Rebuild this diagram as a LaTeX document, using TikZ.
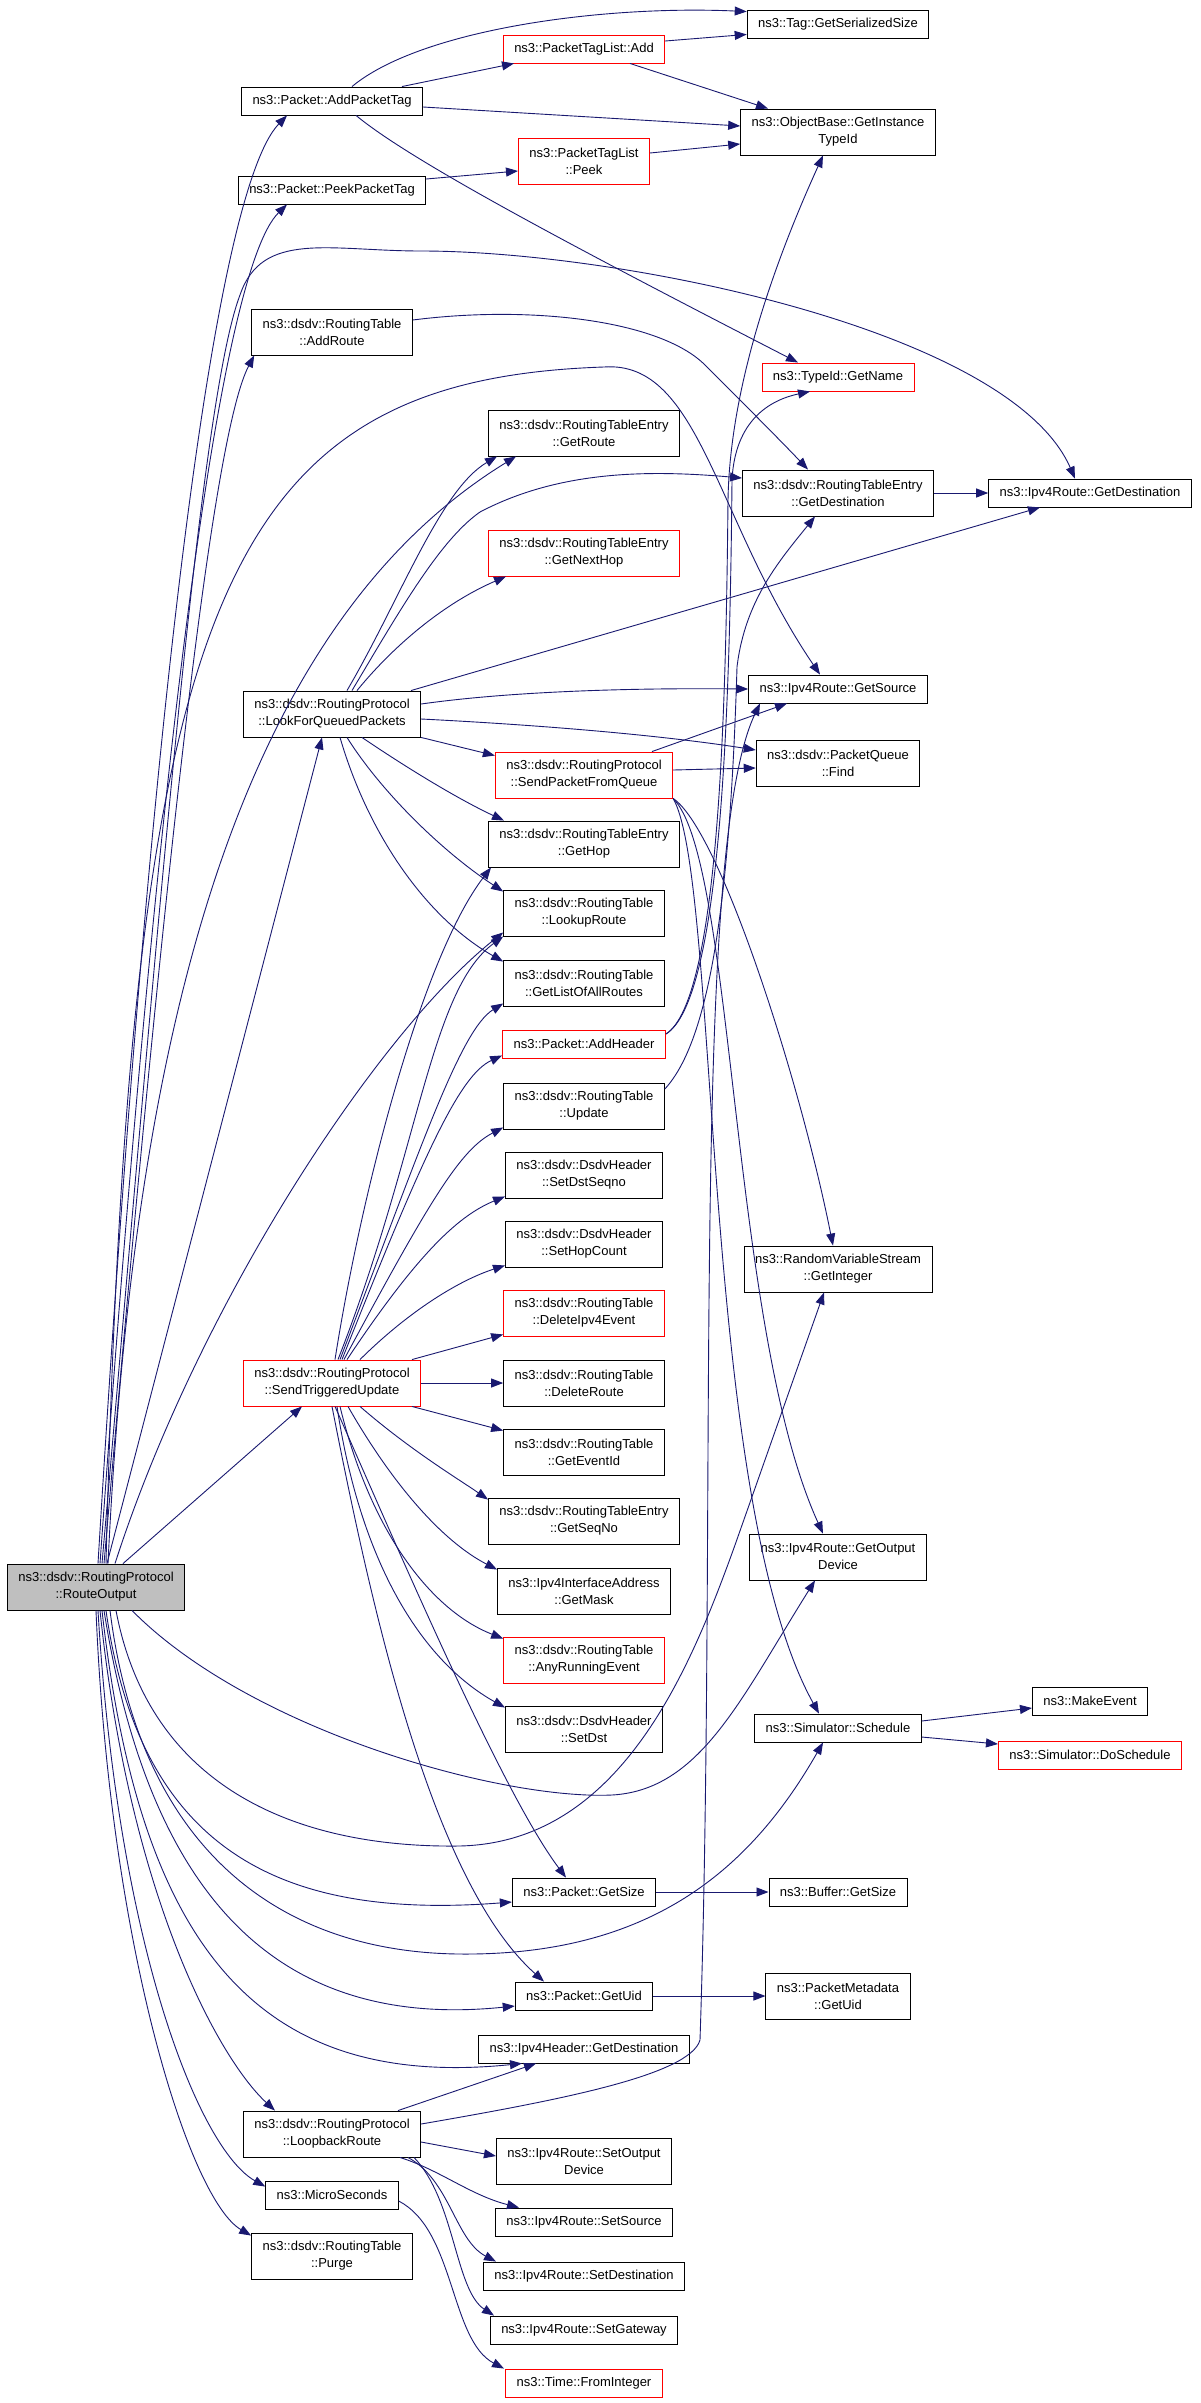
\documentclass[tikz,border=0pt]{standalone}
\usepackage{fontspec}
\setmainfont{Liberation Sans}
\usetikzlibrary{arrows.meta}
\definecolor{edgeblue}{HTML}{191970}
\definecolor{nodegray}{HTML}{BFBFBF}

\begin{document}
\begin{tikzpicture}[x=1pt, y=-1pt,
    fn/.style={draw=black, line width=0.9pt, fill=white, align=center, inner xsep=11pt, inner ysep=0pt,
      minimum height=28pt, font=\fontsize{13pt}{17pt}\selectfont},
    tall/.style={minimum height=46pt},
    hot/.style={draw=red},
    call/.style={draw=edgeblue, line width=0.9pt, -{Triangle[length=12pt,width=9pt]}}]
    \path[use as bounding box, fill=white] (0,0) rectangle (1200,2403);

    % caller
    \node[fn, tall, fill=nodegray] (ro) at (96,1587) {ns3::dsdv::RoutingProtocol\\::RouteOutput};

    % second column
    \node[fn] (apt) at (332,101) {ns3::Packet::AddPacketTag};
    \node[fn] (ppt) at (332,190) {ns3::Packet::PeekPacketTag};
    \node[fn, tall] (rtAdd) at (332,332) {ns3::dsdv::RoutingTable\\::AddRoute};
    \node[fn, tall] (lfqp) at (332,714) {ns3::dsdv::RoutingProtocol\\::LookForQueuedPackets};
    \node[fn, tall, hot] (stu) at (332,1383) {ns3::dsdv::RoutingProtocol\\::SendTriggeredUpdate};
    \node[fn, tall] (lbr) at (332,2134) {ns3::dsdv::RoutingProtocol\\::LoopbackRoute};
    \node[fn] (micro) at (332,2195) {ns3::MicroSeconds};
    \node[fn, tall] (purge) at (332,2256) {ns3::dsdv::RoutingTable\\::Purge};

    % third column
    \node[fn, hot] (ptlAdd) at (584,49) {ns3::PacketTagList::Add};
    \node[fn, tall, hot] (ptlPeek) at (584,161) {ns3::PacketTagList\\::Peek};
    \node[fn, tall] (getRoute) at (584,433) {ns3::dsdv::RoutingTableEntry\\::GetRoute};
    \node[fn, tall, hot] (nextHop) at (584,553) {ns3::dsdv::RoutingTableEntry\\::GetNextHop};
    \node[fn, tall, hot] (spfq) at (584,775) {ns3::dsdv::RoutingProtocol\\::SendPacketFromQueue};
    \node[fn, tall] (getHop) at (584,844) {ns3::dsdv::RoutingTableEntry\\::GetHop};
    \node[fn, tall] (lookup) at (584,913) {ns3::dsdv::RoutingTable\\::LookupRoute};
    \node[fn, tall] (allRoutes) at (584,983) {ns3::dsdv::RoutingTable\\::GetListOfAllRoutes};
    \node[fn, hot] (addHdr) at (584,1044) {ns3::Packet::AddHeader};
    \node[fn, tall] (update) at (584,1106) {ns3::dsdv::RoutingTable\\::Update};
    \node[fn, tall] (setDstSeqno) at (584,1175) {ns3::dsdv::DsdvHeader\\::SetDstSeqno};
    \node[fn, tall] (setHopCount) at (584,1244) {ns3::dsdv::DsdvHeader\\::SetHopCount};
    \node[fn, tall, hot] (delEvent) at (584,1313) {ns3::dsdv::RoutingTable\\::DeleteIpv4Event};
    \node[fn, tall] (delRoute) at (584,1383) {ns3::dsdv::RoutingTable\\::DeleteRoute};
    \node[fn, tall] (eventId) at (584,1452) {ns3::dsdv::RoutingTable\\::GetEventId};
    \node[fn, tall] (seqNo) at (584,1521) {ns3::dsdv::RoutingTableEntry\\::GetSeqNo};
    \node[fn, tall] (mask) at (584,1591) {ns3::Ipv4InterfaceAddress\\::GetMask};
    \node[fn, tall, hot] (anyRun) at (584,1660) {ns3::dsdv::RoutingTable\\::AnyRunningEvent};
    \node[fn, tall] (setDst) at (584,1729) {ns3::dsdv::DsdvHeader\\::SetDst};
    \node[fn] (pktSize) at (584,1892) {ns3::Packet::GetSize};
    \node[fn] (pktUid) at (584,1996) {ns3::Packet::GetUid};
    \node[fn] (hdrDst) at (584,2049) {ns3::Ipv4Header::GetDestination};
    \node[fn, tall] (setOut) at (584,2161) {ns3::Ipv4Route::SetOutput\\Device};
    \node[fn] (setSrc) at (584,2222) {ns3::Ipv4Route::SetSource};
    \node[fn] (setDest) at (584,2276) {ns3::Ipv4Route::SetDestination};
    \node[fn] (setGw) at (584,2330) {ns3::Ipv4Route::SetGateway};
    \node[fn, hot] (fromInt) at (584,2383) {ns3::Time::FromInteger};

    % fourth column
    \node[fn] (tagSize) at (838,24) {ns3::Tag::GetSerializedSize};
    \node[fn, tall] (instId) at (838,132) {ns3::ObjectBase::GetInstance\\TypeId};
    \node[fn, hot] (getName) at (838,377) {ns3::TypeId::GetName};
    \node[fn, tall] (rteDst) at (838,493) {ns3::dsdv::RoutingTableEntry\\::GetDestination};
    \node[fn] (src) at (838,689) {ns3::Ipv4Route::GetSource};
    \node[fn, tall] (find) at (838,763) {ns3::dsdv::PacketQueue\\::Find};
    \node[fn, tall] (getInt) at (838,1269) {ns3::RandomVariableStream\\::GetInteger};
    \node[fn, tall] (outDev) at (838,1557) {ns3::Ipv4Route::GetOutput\\Device};
    \node[fn] (sched) at (838,1728) {ns3::Simulator::Schedule};
    \node[fn] (bufSize) at (838,1892) {ns3::Buffer::GetSize};
    \node[fn, tall] (metaUid) at (838,1996) {ns3::PacketMetadata\\::GetUid};

    % fifth column
    \node[fn] (v4Dst) at (1090,493) {ns3::Ipv4Route::GetDestination};
    \node[fn] (makeEv) at (1090,1701) {ns3::MakeEvent};
    \node[fn, hot] (doSched) at (1090,1755) {ns3::Simulator::DoSchedule};

    % RouteOutput, upwards
    \draw[call] ([xshift=2pt]ro.north) .. controls (150,700) and (215,190) .. ([xshift=-45pt]apt.south);
    \draw[call] ([xshift=4pt]ro.north) .. controls (158,750) and (220,270) .. ([xshift=-45pt]ppt.south);
    \draw[call] ([xshift=6pt]ro.north) .. controls (160,900) and (200,400) .. (240,295)
      .. controls (262,230) and (330,251) .. (421,251) .. controls (620,251) and (1010,330) .. ([xshift=-15pt]v4Dst.north);
    \draw[call] ([xshift=8pt]ro.north) .. controls (170,800) and (215,430) .. ([xshift=3pt]rtAdd.south west);
    \draw[call] ([xshift=10pt]ro.north) .. controls (130,600) and (220,380) .. (604,367)
      .. controls (700,360) and (715,520) .. ([xshift=-18pt]src.north);
    \draw[call] ([xshift=12pt]ro.north) .. controls (135,1000) and (250,620) .. ([xshift=-68pt]getRoute.south);
    \draw[call] ([xshift=11pt]ro.north) -- ([xshift=-10pt]lfqp.south);
    \draw[call] ([xshift=19pt]ro.north) .. controls (200,1300) and (380,1030) .. ([yshift=4pt]lookup.south west);
    \draw[call] ([xshift=27pt]ro.north) -- ([xshift=-30pt]stu.south);

    % RouteOutput, downwards
    \draw[call] ([xshift=36pt]ro.south) .. controls (250,1730) and (500,1800) .. (612,1795)
      .. controls (700,1790) and (740,1700) .. ([xshift=-23pt]outDev.south);
    \draw[call] ([xshift=20pt]ro.south) .. controls (150,1790) and (300,1848) .. (459,1846)
      .. controls (620,1843) and (690,1670) .. (735,1545) -- ([xshift=-14pt]getInt.south);
    \draw[call] ([xshift=14pt]ro.south) .. controls (140,1850) and (280,1952) .. (459,1954)
      .. controls (650,1956) and (750,1870) .. ([xshift=-15pt]sched.south);
    \draw[call] ([xshift=10pt]ro.south) .. controls (140,1850) and (280,1920) .. ([yshift=-10pt]pktSize.west);
    \draw[call] ([xshift=8pt]ro.south) .. controls (150,1900) and (280,2030) .. ([yshift=-10pt]pktUid.west);
    \draw[call] ([xshift=6pt]ro.south) .. controls (140,1950) and (260,2090) .. ([xshift=-62pt]hdrDst.south);
    \draw[call] ([xshift=4pt]ro.south) .. controls (130,1900) and (220,2060) .. ([xshift=-57pt]lbr.north);
    \draw[call] ([xshift=2pt]ro.south) .. controls (118,1950) and (200,2150) .. ([yshift=-6pt]micro.north west);
    \draw[call] (ro.south) .. controls (110,1950) and (190,2200) .. ([yshift=-3pt]purge.north west);

    % packet tags
    \draw[call] ([xshift=20pt]apt.north) .. controls (420,30) and (600,5) .. ([yshift=-2pt]tagSize.north west);
    \draw[call] ([xshift=70pt]apt.north) -- ([xshift=-70pt]ptlAdd.south);
    \draw[call] ([yshift=-6pt]apt.east) -- ([yshift=6pt]instId.west);
    \draw[call] ([xshift=24pt]apt.south) .. controls (410,160) and (560,240) .. ([xshift=-40pt]getName.north);
    \draw[call] ([yshift=8pt]ptlAdd.east) -- ([yshift=4pt]tagSize.south west);
    \draw[call] ([xshift=46pt]ptlAdd.south) -- ([xshift=-70pt]instId.north);
    \draw[call] ([yshift=8pt]ptlPeek.east) -- ([yshift=-12pt]instId.west);
    \draw[call] ([yshift=11pt]ppt.east) -- ([yshift=-10pt]ptlPeek.west);
    \draw[call] ([yshift=12pt]rtAdd.east) .. controls (530,305) and (660,320) .. (705,365)
      .. controls (740,400) and (780,440) .. ([xshift=-30pt]rteDst.north);

    % LookForQueuedPackets
    \draw[call] ([xshift=15pt]lfqp.north) .. controls (400,600) and (440,490) .. ([xshift=-87pt]getRoute.south);
    \draw[call] ([xshift=20pt]lfqp.north) .. controls (400,610) and (440,540) .. (480,512)
      .. controls (560,470) and (650,470) .. ([yshift=15pt]rteDst.west);
    \draw[call] ([xshift=25pt]lfqp.north) .. controls (390,650) and (440,605) .. ([xshift=-78pt]nextHop.south);
    \draw[call] ([xshift=79pt]lfqp.north) -- ([xshift=-50pt]v4Dst.south);
    \draw[call] ([yshift=10pt]lfqp.east) .. controls (520,690) and (650,688) .. (src.west);
    \draw[call] ([yshift=-5pt]lfqp.east) .. controls (540,725) and (660,735) .. ([yshift=13pt]find.west);
    \draw[call] (lfqp.south east) -- ([yshift=-4pt]spfq.north west);
    \draw[call] ([xshift=30pt]lfqp.south) .. controls (410,770) and (460,800) .. ([xshift=-80pt]getHop.north);
    \draw[call] ([xshift=15pt]lfqp.south) .. controls (380,790) and (440,850) .. ([yshift=-2pt]lookup.north west);
    \draw[call] ([xshift=8pt]lfqp.south) .. controls (370,840) and (430,920) .. ([yshift=-2pt]allRoutes.north west);

    % SendPacketFromQueue
    \draw[call] ([xshift=68pt]spfq.north) -- ([xshift=-51pt]src.south);
    \draw[call] ([yshift=5pt]spfq.east) -- ([yshift=-5pt]find.west);
    \draw[call] (spfq.south east) .. controls (720,830) and (800,1080) .. ([xshift=-5pt]getInt.north);
    \draw[call] (spfq.south east) .. controls (735,860) and (730,1330) .. ([xshift=-15pt]outDev.north);
    \draw[call] (spfq.south east) .. controls (720,880) and (700,1500) .. ([xshift=-19pt]sched.north);

    % SendTriggeredUpdate
    \draw[call] ([xshift=3pt]stu.north) .. controls (360,1200) and (420,960) .. ([xshift=3pt]getHop.south west);
    \draw[call] ([xshift=6pt]stu.north) .. controls (420,1150) and (430,990) .. (lookup.south west);
    \draw[call] ([xshift=8pt]stu.north) .. controls (420,1150) and (460,1030) .. ([yshift=3pt]allRoutes.south west);
    \draw[call] ([xshift=10pt]stu.north) .. controls (425,1150) and (460,1075) .. ([yshift=3pt]addHdr.south west);
    \draw[call] ([xshift=12pt]stu.north) .. controls (430,1200) and (460,1150) .. ([yshift=2pt]update.south west);
    \draw[call] ([xshift=15pt]stu.north) .. controls (420,1250) and (460,1215) .. ([yshift=2pt]setDstSeqno.south west);
    \draw[call] ([xshift=28pt]stu.north) .. controls (410,1310) and (460,1280) .. ([yshift=2pt]setHopCount.south west);
    \draw[call] ([xshift=80pt]stu.north) -- ([yshift=2pt]delEvent.south west);
    \draw[call] ([xshift=80pt]stu.south) -- ([yshift=-2pt]eventId.north west);
    \draw[call] ([xshift=28pt]stu.south) .. controls (410,1450) and (460,1480) .. ([yshift=-2pt]seqNo.north west);
    \draw[call] ([xshift=16pt]stu.south) .. controls (390,1480) and (440,1540) .. ([yshift=-2pt]mask.north west);
    \draw[call] ([xshift=8pt]stu.south) .. controls (370,1530) and (430,1610) .. ([yshift=-2pt]anyRun.north west);
    \draw[call] ([xshift=5pt]stu.south) .. controls (360,1560) and (420,1660) .. ([yshift=-2pt]setDst.north west);
    \draw[call] ([xshift=3pt]stu.south) .. controls (390,1530) and (500,1790) .. ([xshift=-18pt]pktSize.north);
    \draw[call] (stu.south) .. controls (370,1600) and (430,1880) .. ([xshift=-40pt]pktUid.north);

    % AddHeader and Update
    \draw[call] ([yshift=10pt]addHdr.east) .. controls (720,1000) and (726,700) .. (728,500)
      .. controls (730,380) and (780,250) .. ([xshift=-15pt]instId.south);
    \draw[call] ([yshift=10pt]addHdr.east) .. controls (722,1000) and (730,700) .. (732,480)
      .. controls (735,420) and (770,400) .. ([xshift=-28pt]getName.south);
    \draw[call] ([yshift=17pt]update.east) .. controls (710,1040) and (730,900) .. (737,667)
      .. controls (745,600) and (780,560) .. ([xshift=-23pt]rteDst.south);

    % LoopbackRoute and MicroSeconds
    \draw[call] ([xshift=66pt]lbr.north) -- ([xshift=-48pt]hdrDst.south);
    \draw[call] ([yshift=10pt]lbr.east) .. controls (560,2100) and (690,2075) .. (700,2040)
      .. controls (718,1500) and (690,850) .. ([xshift=-78pt]src.south);
    \draw[call] ([yshift=-8pt]lbr.east) -- ([yshift=5pt]setOut.west);
    \draw[call] ([xshift=68pt]lbr.south) .. controls (440,2170) and (470,2195) .. ([xshift=-65pt]setSrc.north);
    \draw[call] ([xshift=76pt]lbr.south) .. controls (450,2180) and (455,2240) .. ([xshift=-88pt]setDest.north);
    \draw[call] ([xshift=82pt]lbr.south) .. controls (455,2200) and (455,2290) .. ([xshift=-90pt]setGw.north);
    \draw[call] ([yshift=-6pt]micro.east) .. controls (455,2230) and (450,2340) .. ([xshift=-80pt]fromInt.north);

    % straight calls
    \foreach \from/\to in {pktSize/bufSize, pktUid/metaUid, rteDst/v4Dst, stu/delRoute}
        \draw[call] (\from) -- (\to);
    \draw[call] ([yshift=7pt]sched.east) -- ([yshift=-7pt]makeEv.west);
    \draw[call] ([yshift=-9pt]sched.east) -- ([yshift=11pt]doSched.west);
\end{tikzpicture}
\end{document}
